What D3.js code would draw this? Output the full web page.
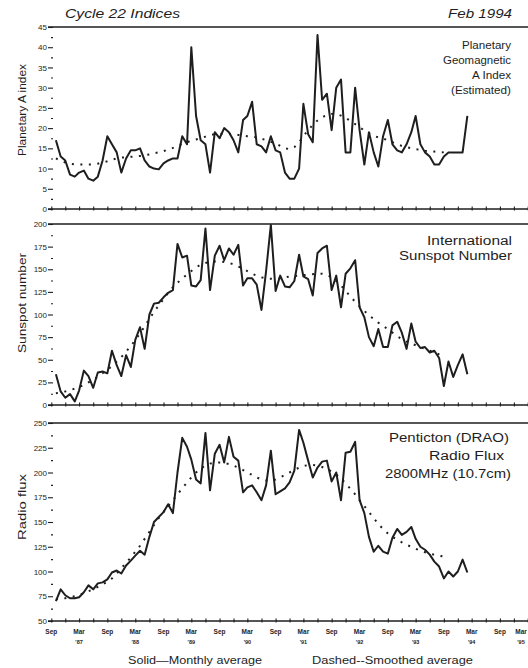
<!DOCTYPE html>
<html>
<head>
<meta charset="utf-8">
<title>Cycle 22 Indices</title>
<script src="https://cdn.jsdelivr.net/npm/d3@7"></script>
<style>
  html, body { margin: 0; padding: 0; background: #fff; }
  svg { display: block; }
  text { font-family: "Liberation Sans", Arial, Helvetica, sans-serif; fill: #1e1e1e; }
</style>
</head>
<body>
<div id="chart"></div>
<script>
// Cycle 22 indices, monthly values from Oct 1986, smoothed values as far as they go.
const firstMonth = new Date(1986, 9, 1);

const aIndexMonthly = [17, 13, 12, 8.5, 8, 9, 9.5, 7.5, 7, 8,
  12, 18, 16, 14, 9, 12.5, 14.5, 14.5, 15, 12,
  10.5, 10, 9.8, 11.3, 12, 12.5, 12.5, 18, 16, 40,
  23, 17, 16, 9, 19, 17.5, 20, 19, 17, 14,
  22, 23, 26.5, 16, 15.5, 14, 18, 14.5, 14, 9,
  7.5, 7.5, 10, 26, 18.5, 16.5, 43, 27, 28.5, 19.5,
  30, 32, 14, 14, 30, 19.5, 11, 19, 14, 10.5,
  18, 22, 16, 14.5, 14, 16, 19, 23, 16, 14,
  13, 11, 11, 13, 14, 14, 14, 14, 23];
const aIndexSmoothed = [12.5, 12, 11.5, 11.2, 11, 11, 11, 11, 11, 11.2,
  11.5, 11.8, 12.2, 12.5, 12.7, 12.8, 12.9, 13, 13.1, 13.3,
  13.5, 13.8, 14, 14.3, 14.7, 15.1, 15.6, 16.1, 16.5, 16.9,
  17.2, 17.5, 17.9, 18.3, 18.5, 18.6, 18.6, 18.6, 18.5, 18.3,
  18.2, 18, 17.9, 17.7, 17.4, 17, 16.6, 16.2, 15.6, 15,
  14.8, 15.3, 16.5, 18, 19.5, 20.8, 21.9, 22.7, 23.2, 23.5,
  23.5, 23.1, 22.5, 21.8, 21, 20.2, 19.4, 18.7, 18.1, 17.7,
  17.4, 17, 16.5, 16, 15.6, 15.3, 15, 14.8, 14.6, 14.4,
  14.3, 14.2, 14.1, 14];

const sunspotMonthly = [34, 15, 8, 12, 4, 16, 38, 32, 19, 36,
  37, 35, 60, 44, 32, 55, 42, 72, 86, 62,
  100, 112, 113, 119, 124, 127, 178, 163, 165, 132,
  131, 138, 195, 127, 165, 176, 160, 173, 166, 177,
  132, 140, 140, 133, 105, 148, 199, 126, 143, 131,
  130, 137, 166, 142, 139, 121, 168, 173, 176, 127,
  143, 108, 145, 151, 160, 108, 97, 75, 65, 84,
  64, 64, 88, 92, 80, 62, 90, 70, 63, 64,
  58, 60, 52, 21, 48, 31, 44, 56, 34];
const sunspotSmoothed = [13, 14, 15, 16.5, 18, 20, 22, 25, 28, 31,
  35, 39, 43, 48, 53, 59, 65, 72, 79, 87,
  95, 103, 110, 117, 124, 130, 135, 140, 144, 148,
  152, 155, 157, 158, 158.5, 158.5, 158, 157, 155.5, 153,
  150.5, 148, 145, 143, 141, 140, 139.5, 139.5, 140, 141,
  142, 142.5, 143, 143.5, 144, 144.5, 145, 145, 144, 141,
  137, 132, 126, 120, 114, 109, 104, 99, 95, 91,
  87, 84, 80, 76, 73, 70, 68, 66, 64, 62,
  60, 58, 56, 54];

const fluxMonthly = [70, 82, 76, 73, 73, 74, 79, 86, 82, 88,
  89, 92, 99, 101, 98, 106, 111, 116, 121, 117,
  135, 150, 155, 160, 168, 159, 200, 235, 226, 213,
  193, 189, 240, 182, 219, 228, 210, 236, 216, 212,
  180, 185, 187, 180, 172, 187, 222, 178, 181, 184,
  190, 202, 243, 230, 212, 195, 205, 211, 212, 191,
  200, 172, 220, 221, 231, 172, 159, 135, 120, 126,
  120, 118, 134, 143, 137, 140, 145, 133, 125, 122,
  117, 110, 105, 93, 100, 95, 100, 112, 99];
const fluxSmoothed = [72, 72.5, 73, 74, 75, 76.5, 78, 80, 82, 84.5,
  87, 89.5, 93, 98, 103, 109, 114, 120, 126, 133,
  140, 147, 154, 160, 166, 172, 178, 184, 190, 195,
  200, 204, 207, 209, 210, 210, 209.5, 208.5, 207, 205,
  202.5, 200, 197.5, 195, 193, 192, 192, 193, 195, 197.5,
  200, 202.5, 205, 206.5, 207.5, 207.5, 207, 205.5, 203.5, 201,
  198, 194, 189, 183.5, 178, 172, 166, 160, 154, 148,
  143, 138.5, 135, 132, 129.5, 127, 125, 123, 121, 119.5,
  118, 117, 116, 115];

const monthNames = ["Sep", "Mar"];
const yearLabels = ["'87", "'88", "'89", "'90", "'91", "'92", "'93", "'94", "'95"];

const width = 528, height = 668;
const ink = '#1e1e1e';

const svg = d3.select('#chart').append('svg')
  .attr('width', width)
  .attr('height', height);

svg.append('rect').attr('width', width).attr('height', height).attr('fill', '#fff');

const axisStart = new Date(1986, 8, 1);   // Sep 1986
const axisEnd = new Date(1995, 2, 1);     // Mar 1995

const x = d3.scaleTime()
  .domain([axisStart, axisEnd])
  .range([51.3, 527.7]);

const monthX = (d, i) => x(d3.timeMonth.offset(firstMonth, i));

// quarterly ticks starting at Sep, labels every six months
const quarterTicks = d3.timeMonth.range(axisStart, d3.timeMonth.offset(axisEnd, 1), 3);
const labelDates = d3.timeMonth.range(axisStart, d3.timeMonth.offset(axisEnd, 1), 6);

// header
svg.append('text').attr('x', 65).attr('y', 18)
  .attr('font-size', 12).attr('font-style', 'italic')
  .attr('textLength', 115).attr('lengthAdjust', 'spacingAndGlyphs')
  .text('Cycle 22 Indices');
svg.append('text').attr('x', 448).attr('y', 18)
  .attr('font-size', 12).attr('font-style', 'italic')
  .attr('textLength', 64).attr('lengthAdjust', 'spacingAndGlyphs')
  .text('Feb 1994');

function drawPanel(opts) {
  const y = d3.scaleLinear().domain(opts.domain).range(opts.range);
  const g = svg.append('g');

  // top rule and bottom axis line
  g.append('line').attr('x1', 48).attr('x2', width)
    .attr('y1', y(opts.domain[1])).attr('y2', y(opts.domain[1]))
    .attr('stroke', ink).attr('stroke-width', 1.5);
  g.append('line').attr('x1', 48).attr('x2', width)
    .attr('y1', y(opts.domain[0])).attr('y2', y(opts.domain[0]))
    .attr('stroke', ink).attr('stroke-width', 1.5);

  // y ticks
  const yAxis = d3.axisLeft(y).tickValues(opts.major).tickSize(5).tickPadding(1)
    .tickFormat(d3.format('d'));
  const ya = g.append('g').attr('transform', 'translate(53,0)').call(yAxis);
  ya.select('.domain').remove();
  ya.selectAll('line').attr('stroke', ink).attr('stroke-width', 1.1);
  ya.selectAll('text').attr('font-size', 8).attr('fill', ink)
    .attr('font-family', '"Liberation Sans", Arial, sans-serif');

  const yMinor = d3.axisLeft(y).tickValues(opts.minor).tickSize(2).tickFormat('');
  const ym = g.append('g').attr('transform', 'translate(53,0)').call(yMinor);
  ym.select('.domain').remove();
  ym.selectAll('line').attr('stroke', ink).attr('stroke-width', 1.1);

  // x ticks along the bottom line
  const xAxis = d3.axisBottom(x).tickValues(quarterTicks).tickSize(2).tickFormat('');
  const xa = g.append('g').attr('transform', `translate(0,${y(opts.domain[0])})`).call(xAxis);
  xa.select('.domain').remove();
  xa.selectAll('line').attr('y1', -2.5).attr('y2', 1.5).attr('stroke', ink).attr('stroke-width', 1.1);

  // y title
  g.append('text')
    .attr('transform', `translate(26,${opts.titleY}) rotate(-90)`)
    .attr('text-anchor', 'middle')
    .attr('font-size', 11)
    .attr('textLength', opts.titleLen).attr('lengthAdjust', 'spacingAndGlyphs')
    .text(opts.title);

  // smoothed (dotted) then monthly (solid)
  g.append('path').datum(opts.smoothed)
    .attr('d', d3.line().x(monthX).y(d => y(d)))
    .attr('fill', 'none').attr('stroke', ink)
    .attr('stroke-width', 2).attr('stroke-dasharray', '2,6.5');

  g.append('path').datum(opts.monthly)
    .attr('d', d3.line().x(monthX).y(d => y(d)))
    .attr('fill', 'none').attr('stroke', ink)
    .attr('stroke-width', 2).attr('stroke-linejoin', 'round');

  // legend block in the upper right
  opts.legend.forEach(l => {
    const t = g.append('text').attr('x', l.x).attr('y', l.y)
      .attr('font-size', opts.legendSize).text(l.text);
    if (l.len) t.attr('textLength', l.len).attr('lengthAdjust', 'spacingAndGlyphs');
  });
}

drawPanel({
  domain: [0, 45], range: [209, 27],
  major: d3.range(0, 46, 5), minor: d3.range(2.5, 45, 5),
  title: 'Planetary A index', titleY: 110, titleLen: 92,
  monthly: aIndexMonthly, smoothed: aIndexSmoothed,
  legendSize: 11.5,
  legend: [
    { text: 'Planetary', x: 462, y: 49, len: 49 },
    { text: 'Geomagnetic', x: 443, y: 64, len: 68 },
    { text: 'A Index', x: 472, y: 79, len: 39 },
    { text: '(Estimated)', x: 451, y: 94, len: 60 }
  ]
});

drawPanel({
  domain: [0, 200], range: [405, 224],
  major: d3.range(0, 201, 25), minor: d3.range(12.5, 200, 25),
  title: 'Sunspot number', titleY: 303, titleLen: 100,
  monthly: sunspotMonthly, smoothed: sunspotSmoothed,
  legendSize: 12,
  legend: [
    { text: 'International', x: 427, y: 245, len: 85 },
    { text: 'Sunspot Number', x: 399, y: 260, len: 113 }
  ]
});

drawPanel({
  domain: [50, 250], range: [621, 423],
  major: d3.range(50, 251, 25), minor: d3.range(62.5, 250, 25),
  title: 'Radio flux', titleY: 507, titleLen: 66,
  monthly: fluxMonthly, smoothed: fluxSmoothed,
  legendSize: 12,
  legend: [
    { text: 'Penticton (DRAO)', x: 389, y: 442, len: 120 },
    { text: 'Radio Flux', x: 429, y: 460, len: 75 },
    { text: '2800MHz (10.7cm)', x: 385, y: 478, len: 126 }
  ]
});

// month labels under the bottom panel (the last one sits against the right edge)
const xl = svg.append('g');
labelDates.forEach((d, i) => {
  const name = monthNames[i % 2];
  const lx = Math.min(x(d), 521);
  xl.append('text').attr('x', lx).attr('y', 634)
    .attr('text-anchor', 'middle').attr('font-size', 6.5).attr('font-weight', 'bold')
    .text(name);
  if (name === 'Mar') {
    xl.append('text').attr('x', lx).attr('y', 644)
      .attr('text-anchor', 'middle').attr('font-size', 5.5).attr('font-weight', 'bold')
      .text(yearLabels[(i - 1) / 2]);
  }
});

// line key at the bottom
svg.append('text').attr('x', 128).attr('y', 664).attr('font-size', 10)
  .attr('textLength', 134).attr('lengthAdjust', 'spacingAndGlyphs')
  .text('Solid\u2014Monthly average');
svg.append('text').attr('x', 312).attr('y', 664).attr('font-size', 10)
  .attr('textLength', 161).attr('lengthAdjust', 'spacingAndGlyphs')
  .text('Dashed--Smoothed average');
</script>
</body>
</html>
